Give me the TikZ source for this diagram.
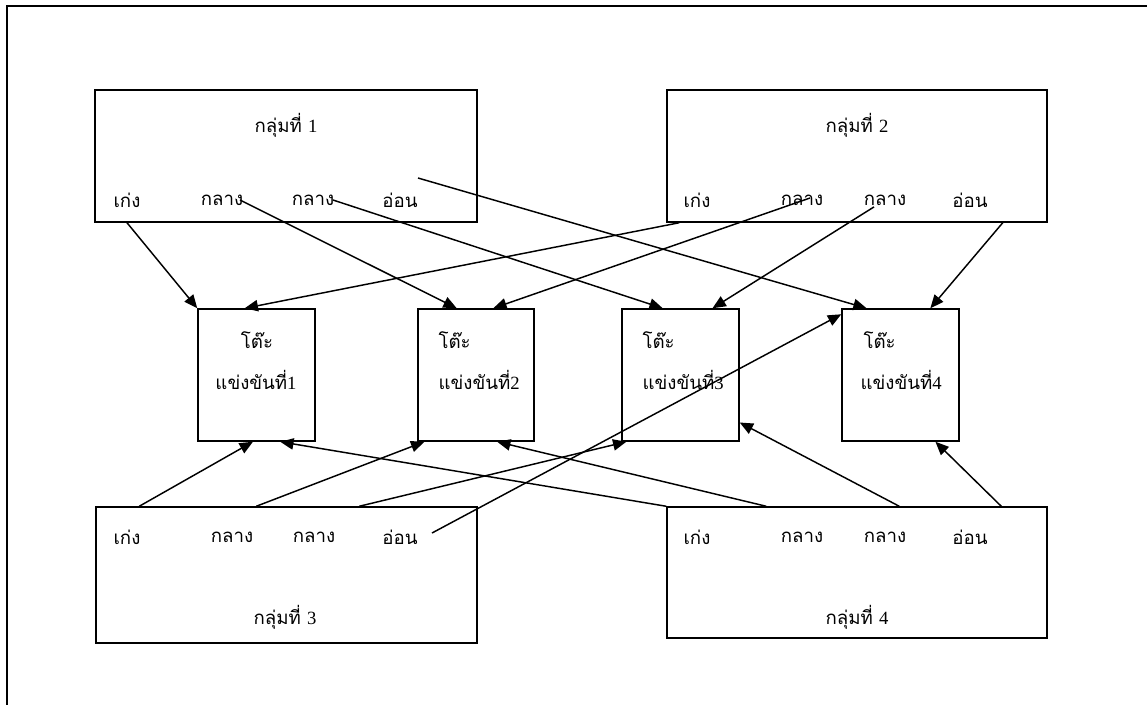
\documentclass[tikz,border=0pt]{standalone}
\usepackage{fontspec}
\setmainfont{Liberation Serif}
\newfontfamily\thai[Script=Thai]{Loma}
\usetikzlibrary{arrows.meta,fit,calc}
\begin{document}
\begin{tikzpicture}[x=0.75pt,y=-0.75pt,
  box/.style={draw, line width=1.1pt, inner sep=0pt},
  lbl/.style={font=\thai\fontsize{14}{16}\selectfont, inner sep=1pt},
  conn/.style={line width=1.1pt, -{Triangle[length=10pt,width=8.5pt]}}]
\useasboundingbox (0,0) rectangle (1147,704);
\clip (0,0) rectangle (1147,704);
\draw[line width=1.2pt] (7,720) -- (7,6) -- (1160,6);
% group boxes
\node[box, fit={(95,90) (477,222)}] (g1) {};
\node[box, fit={(667,90) (1047,222)}] (g2) {};
\node[box, fit={(96,507) (477,643)}] (g3) {};
\node[box, fit={(667,507) (1047,638)}] (g4) {};
% table boxes
\node[box, fit={(198,309) (315,441)}] (t1) {};
\node[box, fit={(418,309) (534,441)}] (t2) {};
\node[box, fit={(622,309) (739,441)}] (t3) {};
\node[box, fit={(842,309) (959,441)}] (t4) {};
% group titles
\node[lbl] (g1t) at (286,125) {กลุ่มที่ {\rmfamily 1}};
\node[lbl] (g2t) at (857,125) {กลุ่มที่ {\rmfamily 2}};
\node[lbl] (g3t) at (285,617) {กลุ่มที่ {\rmfamily 3}};
\node[lbl] (g4t) at (857,617) {กลุ่มที่ {\rmfamily 4}};
% group levels
\node[lbl] (g1a) at (127,200) {เก่ง};
\node[lbl] (g1b) at (222,200) {กลาง};
\node[lbl] (g1c) at (313,200) {กลาง};
\node[lbl] (g1d) at (400,200) {อ่อน};
\node[lbl] (g2a) at (697,200) {เก่ง};
\node[lbl] (g2b) at (802,200) {กลาง};
\node[lbl] (g2c) at (885,200) {กลาง};
\node[lbl] (g2d) at (970,200) {อ่อน};
\node[lbl] (g3a) at (127,537) {เก่ง};
\node[lbl] (g3b) at (232,537) {กลาง};
\node[lbl] (g3c) at (314,537) {กลาง};
\node[lbl] (g3d) at (400,537) {อ่อน};
\node[lbl] (g4a) at (697,537) {เก่ง};
\node[lbl] (g4b) at (802,537) {กลาง};
\node[lbl] (g4c) at (885,537) {กลาง};
\node[lbl] (g4d) at (970,537) {อ่อน};
% table labels
\node[lbl] (t1a) at (257,340) {โต๊ะ};
\node[lbl] (t1b) at (256,380) {แข่งขันที่{\rmfamily 1}};
\node[lbl, anchor=west] (t2a) at (437,340) {โต๊ะ};
\node[lbl, anchor=west] (t2b) at (437,380) {แข่งขันที่{\rmfamily 2}};
\node[lbl, anchor=west] (t3a) at (641,340) {โต๊ะ};
\node[lbl, anchor=west] (t3b) at (641,380) {แข่งขันที่{\rmfamily 3}};
\node[lbl, anchor=west] (t4a) at (862,340) {โต๊ะ};
\node[lbl, anchor=west] (t4b) at (859,380) {แข่งขันที่{\rmfamily 4}};
% free ends
\coordinate (g1s) at (418,178);
\coordinate (g1m) at (240,200);
\coordinate (g1n) at (333,200);
\coordinate (g2s) at (810,198);
\coordinate (g3s) at (432,533);
% group 1
\draw[conn] (g1.south -| g1a) -- (t1.north west);
\draw[conn] (g1m) -- ($(t2.north west)!0.336!(t2.north east)$);
\draw[conn] (g1n) -- ($(t3.north west)!0.35!(t3.north east)$);
\draw[conn] (g1s) -- ($(t4.north west)!0.214!(t4.north east)$);
% group 2
\draw[conn] ($(g2.south west)+(13,0)$) -- ($(t1.north west)!0.40!(t1.north east)$);
\draw[conn] (g2s) -- ($(t2.north west)!0.647!(t2.north east)$);
\draw[conn] (g2c) -- ($(t3.north west)!0.77!(t3.north east)$);
\draw[conn] ($(g2.south east)+(-45,0)$) -- ($(t4.north west)!0.752!(t4.north east)$);
% group 3
\draw[conn] ($(g3.north west)+(44,0)$) -- ($(t1.south west)!0.47!(t1.south east)$);
\draw[conn] ($(g3.north west)+(161,0)$) -- ($(t2.south west)!0.06!(t2.south east)$);
\draw[conn] ($(g3.north west)+(264,0)$) -- ($(t3.south west)!0.043!(t3.south east)$);
\draw[conn] (g3s) -- ($(t4.north west)+(0,6)$);
% group 4
\draw[conn] (g4.north west) -- ($(t1.south west)!0.70!(t1.south east)$);
\draw[conn] ($(g4.north west)+(100,0)$) -- ($(t2.south west)!0.68!(t2.south east)$);
\draw[conn] ($(g4.north west)+(233,0)$) -- ($(t3.north east)!0.856!(t3.south east)$);
\draw[conn] ($(g4.north west)+(335,0)$) -- ($(t4.south west)!0.795!(t4.south east)$);
\end{tikzpicture}
\end{document}
